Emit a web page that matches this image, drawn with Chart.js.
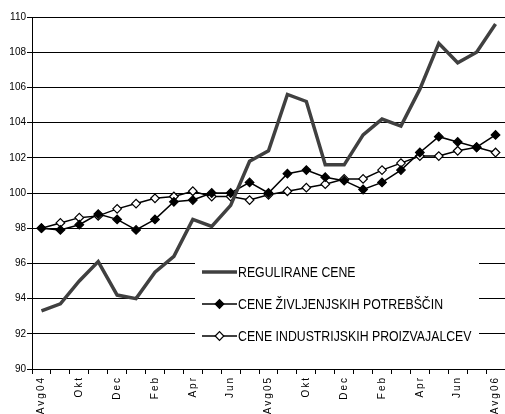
<!DOCTYPE html>
<html>
<head>
<meta charset="utf-8">
<script src="https://cdn.jsdelivr.net/npm/chart.js@4.4.1/dist/chart.umd.min.js"></script>
<style>
  html, body { margin: 0; padding: 0; background: #fff; overflow: hidden; }
  #wrap { width: 505px; height: 414px; }
</style>
</head>
<body>
<div id="wrap"><canvas id="myChart" width="505" height="414"></canvas></div>
<script>
// mesecne oznake (avg 2004 - avg 2006)
const months = ["Avg04", "Sep", "Okt", "Nov", "Dec", "Jan", "Feb", "Mar", "Apr", "Maj", "Jun", "Jul",
  "Avg05", "Sep", "Okt", "Nov", "Dec", "Jan", "Feb", "Mar", "Apr", "Maj", "Jun", "Jul", "Avg06"];

const regulirane = [93.3, 93.7, 95.0, 96.1, 94.2, 94.0, 95.5, 96.4, 98.5, 98.1, 99.3, 101.8,
  102.4, 105.6, 105.2, 101.6, 101.6, 103.3, 104.2, 103.8, 105.9, 108.5, 107.4, 108.0, 109.6];

const zivljenjske = [98.0, 97.9, 98.2, 98.8, 98.5, 97.9, 98.5, 99.5, 99.6, 100.0, 100.0, 100.6,
  100.0, 101.1, 101.3, 100.9, 100.7, 100.2, 100.6, 101.3, 102.3, 103.2, 102.9, 102.6, 103.3];

const industrijske = [98.0, 98.3, 98.6, 98.7, 99.1, 99.4, 99.7, 99.8, 100.1, 99.8, 99.8, 99.6,
  99.9, 100.1, 100.3, 100.5, 100.8, 100.8, 101.3, 101.7, 102.1, 102.1, 102.4, 102.6, 102.3];

const yMin = 90, yMax = 110, yStep = 2;

const font = '"Liberation Sans", Arial, sans-serif';
Chart.defaults.font.family = font;
Chart.defaults.color = "#000";

// razmik med crkami samo za oznake na osi x (te se risejo po podatkih, z: 1)
const letterSpace = {
  id: "letterSpace",
  afterDatasetsDraw(chart) {
    chart.ctx.letterSpacing = "2px";
  }
};

// legenda v notranjosti grafa (z belim ozadjem cez mrezo)
const legendBox = {
  id: "legendBox",
  afterDraw(chart) {
    const ctx = chart.ctx;
    ctx.save();
    ctx.letterSpacing = "0px";
    ctx.fillStyle = "#fff";
    ctx.fillRect(195, 244, 284, 104);
    chart.data.datasets.forEach((ds, i) => {
      const y = 272 + i * 32;
      ctx.strokeStyle = ds.borderColor;
      ctx.lineWidth = ds.borderWidth;
      ctx.beginPath();
      ctx.moveTo(202, y);
      ctx.lineTo(237, y);
      ctx.stroke();
      if (ds.pointRadius > 0) {
        ctx.fillStyle = ds.pointBackgroundColor;
        ctx.strokeStyle = ds.pointBorderColor;
        ctx.lineWidth = ds.pointBorderWidth;
        Chart.helpers.drawPoint(ctx, {
          pointStyle: "rectRot",
          rotation: 0,
          radius: ds.pointRadius,
          borderWidth: ds.pointBorderWidth
        }, 219.5, y);
      }
      // ozka pisava: besedilo stisnemo vodoravno
      ctx.save();
      ctx.translate(238, y + 0.5);
      ctx.scale(0.82, 1);
      ctx.fillStyle = "#000";
      ctx.font = "15px " + font;
      ctx.textBaseline = "middle";
      ctx.textAlign = "left";
      ctx.fillText(ds.label, 0, 0);
      ctx.restore();
    });
    ctx.restore();
  }
};

new Chart(document.getElementById("myChart"), {
  type: "line",
  data: {
    labels: months,
    datasets: [
      {
        label: "REGULIRANE CENE",
        data: regulirane,
        borderColor: "#404040",
        borderWidth: 3.5,
        pointRadius: 0,
        tension: 0
      },
      {
        label: "CENE ŽIVLJENJSKIH POTREBŠČIN",
        data: zivljenjske,
        borderColor: "#000",
        borderWidth: 1.5,
        pointStyle: "rectRot",
        pointRadius: 4.3,
        pointBackgroundColor: "#000",
        pointBorderColor: "#000",
        pointBorderWidth: 1.2,
        tension: 0
      },
      {
        label: "CENE INDUSTRIJSKIH PROIZVAJALCEV",
        data: industrijske,
        borderColor: "#000",
        borderWidth: 1.5,
        pointStyle: "rectRot",
        pointRadius: 4.3,
        pointBackgroundColor: "#fff",
        pointBorderColor: "#000",
        pointBorderWidth: 1.2,
        tension: 0
      }
    ]
  },
  options: {
    responsive: false,
    animation: false,
    devicePixelRatio: 1,
    layout: { autoPadding: false, padding: { top: 17, right: 0, left: 0, bottom: 0 } },
    plugins: {
      legend: { display: false },
      tooltip: { enabled: false }
    },
    scales: {
      x: {
        offset: true,
        afterFit: (s) => {
          s.height = 45;
          s.paddingLeft = 0;
          s.paddingRight = 0;
        },
        grid: {
          offset: true,
          drawOnChartArea: false,
          color: "#000",
          tickLength: 5
        },
        border: { color: "#000", width: 1 },
        ticks: {
          z: 1,
          autoSkip: false,
          minRotation: 90,
          maxRotation: 90,
          padding: 2,
          font: { size: 10 },
          callback: function (val, index) {
            return index % 2 === 0 ? this.getLabelForValue(val) : "";
          }
        }
      },
      y: {
        min: yMin,
        max: yMax,
        afterFit: (s) => { s.width = 32; },
        grid: { color: "#000", lineWidth: 1, tickLength: 5 },
        border: { color: "#000", width: 1 },
        ticks: {
          stepSize: yStep,
          padding: 1,
          font: { size: 10 }
        }
      }
    }
  },
  plugins: [letterSpace, legendBox]
});
</script>
</body>
</html>
